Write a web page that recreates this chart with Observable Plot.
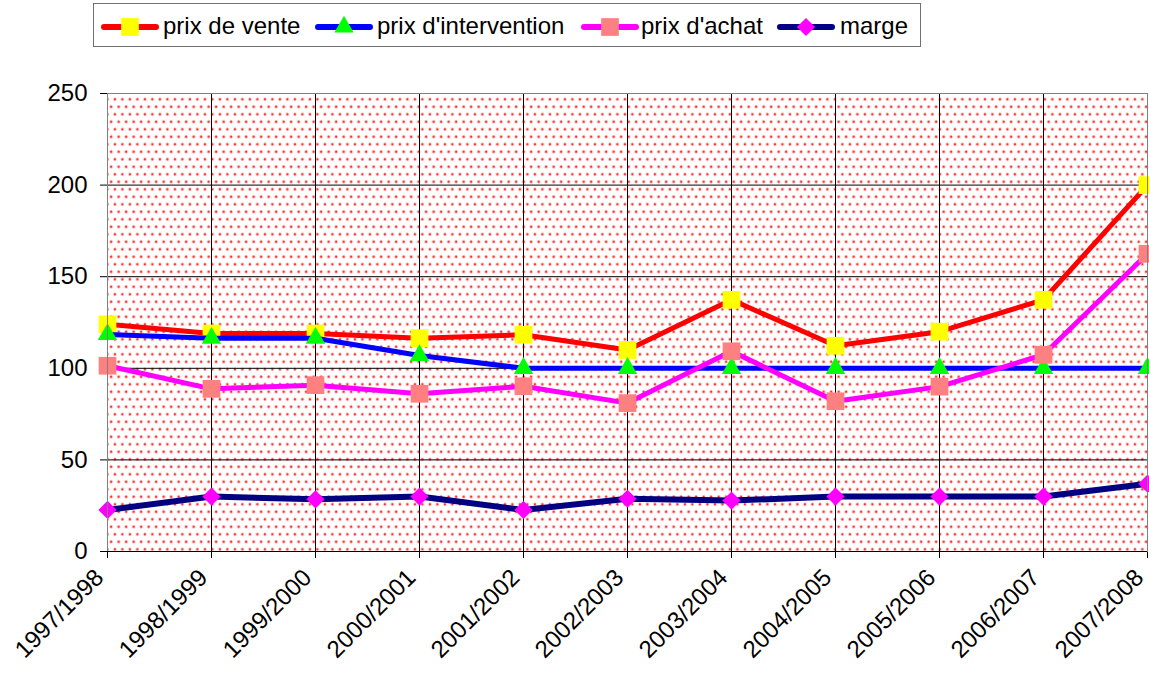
<!DOCTYPE html>
<html>
<head>
<meta charset="utf-8">
<script src="https://cdn.jsdelivr.net/npm/d3@7"></script>
<script src="https://cdn.jsdelivr.net/npm/@observablehq/plot@0.6"></script>
<style>
  html, body { margin: 0; padding: 0; background: #fff; }
  body { width: 1149px; height: 682px; overflow: hidden; font-family: "Liberation Sans", Arial, sans-serif; }
  #legend { position: relative; width: 1149px; height: 50px; }
  #legend .box { position: absolute; left: 93px; top: 3px; width: 828px; height: 44px; border: 1.5px solid #707070; box-sizing: border-box; }
  #legend .sw { position: absolute; top: 16px; }
  #legend .tx { position: absolute; top: 12px; font-size: 24px; line-height: 28px; color: #000; white-space: nowrap; }
  #chart svg { display: block; overflow: visible; }
</style>
</head>
<body>
<div id="legend"><div class="box"></div></div>
<div id="chart"></div>
<script>
const categories = ["1997/1998","1998/1999","1999/2000","2000/2001","2001/2002","2002/2003","2003/2004","2004/2005","2005/2006","2006/2007","2007/2008"];
const prixVente = [124, 119, 119, 116.4, 118.3, 110, 137.4, 112.3, 120, 137.4, 200];
const prixIntervention = [118.5, 116.4, 116.4, 107, 100, 100, 100, 100, 100, 100, 100];
const prixAchat = [101.4, 88.8, 90.8, 86.1, 90.2, 81, 109.3, 82, 90, 107.4, 162.5];
const marge = [22.7, 30, 28.5, 30, 22.7, 28.8, 27.8, 30, 30, 30, 37];
const seriesNames = ["prix de vente", "prix d'intervention", "prix d'achat", "marge"];
const yTicks = [0, 50, 100, 150, 200, 250];

const seriesStyle = [
  {vals: prixVente, line: "#ff0000", marker: "#ffff00", symbol: "square", r: 10},
  {vals: prixIntervention, line: "#0000ff", marker: "#00ff00", symbol: "triangle", r: 7.2},
  {vals: prixAchat, line: "#ff00ff", marker: "#ff8080", symbol: "square", r: 10},
  {vals: marge, line: "#000080", marker: "#ff00ff", symbol: "diamond2", r: 8.2}
];

const rowsOf = (vals) => categories.map((c, i) => ({cat: c, value: vals[i]}));

const marks = [
  Plot.frame({fill: "url(#dots)", stroke: "none"}),
  Plot.ruleX(categories, {stroke: "#000", strokeWidth: 1}),
  Plot.ruleY(yTicks, {stroke: "#000", strokeWidth: 1}),
  Plot.axisY({ticks: yTicks, tickSize: 7, tickPadding: 13, label: null, stroke: "#000"}),
  Plot.axisX({tickSize: 7, tickFormat: () => "", label: null, stroke: "#000"}),
  Plot.axisX({tickRotate: -45, tickSize: 0, tickPadding: 22, dx: -8, label: null})
];
seriesStyle.forEach((s, k) => {
  const rows = rowsOf(s.vals);
  marks.push(Plot.line(rows, {x: "cat", y: "value", stroke: s.line, strokeWidth: k === 3 ? 6 : 5, strokeLinejoin: "round"}));
  marks.push(Plot.dot(rows, {x: "cat", y: "value", symbol: s.symbol, r: s.r, fill: s.marker, stroke: "none"}));
});
marks.push(Plot.frame({stroke: "#808080", strokeWidth: 1, fill: "none"}));
marks.push(Plot.ruleY([0], {stroke: "#000"}));

const chart = Plot.plot({
  width: 1149,
  height: 632,
  marginTop: 43,
  marginBottom: 131,
  marginLeft: 107,
  marginRight: 2,
  style: {fontSize: "24px", fontFamily: "'Liberation Sans', Arial, sans-serif", color: "#000", background: "transparent", overflow: "visible"},
  x: {type: "point", domain: categories, padding: 0},
  y: {domain: [0, 250]},
  marks
});

// dotted background pattern
const ns = "http://www.w3.org/2000/svg";
const defs = document.createElementNS(ns, "defs");
const pat = document.createElementNS(ns, "pattern");
pat.setAttribute("id", "dots");
pat.setAttribute("patternUnits", "userSpaceOnUse");
pat.setAttribute("width", "7.5");
pat.setAttribute("height", "15");
const bg = document.createElementNS(ns, "rect");
bg.setAttribute("width", "7.5"); bg.setAttribute("height", "15"); bg.setAttribute("fill", "#ffffff");
pat.appendChild(bg);
[[1.9, 3.75], [5.65, 11.25]].forEach(([cx, cy]) => {
  const halo = document.createElementNS(ns, "circle");
  halo.setAttribute("cx", cx); halo.setAttribute("cy", cy); halo.setAttribute("r", "1.6");
  halo.setAttribute("fill", "#ff9a9a");
  pat.appendChild(halo);
  const c = document.createElementNS(ns, "circle");
  c.setAttribute("cx", cx); c.setAttribute("cy", cy); c.setAttribute("r", "0.9");
  c.setAttribute("fill", "#ff0000");
  pat.appendChild(c);
});
defs.appendChild(pat);
chart.insertBefore(defs, chart.firstChild);
document.getElementById("chart").appendChild(chart);

// legend
const legend = document.getElementById("legend");
const swatchX = [101, 315, 581, 777];
const textX = [163, 377, 641, 840];
seriesStyle.forEach((s, k) => {
  const sw = d3.create("svg").attr("class", "sw").attr("width", 58).attr("height", 22)
    .style("left", swatchX[k] + "px");
  sw.append("line").attr("x1", 3).attr("x2", 55).attr("y1", 11).attr("y2", 11)
    .attr("stroke", s.line).attr("stroke-width", 6).attr("stroke-linecap", "round");
  const sym = {square: d3.symbolSquare, triangle: d3.symbolTriangle, diamond2: d3.symbolDiamond2}[s.symbol];
  sw.append("path").attr("transform", "translate(29,11)")
    .attr("d", d3.symbol(sym, s.r * s.r * Math.PI)()).attr("fill", s.marker);
  legend.appendChild(sw.node());
  const t = document.createElement("div");
  t.className = "tx";
  t.style.left = textX[k] + "px";
  t.textContent = seriesNames[k];
  legend.appendChild(t);
});
</script>
</body>
</html>
